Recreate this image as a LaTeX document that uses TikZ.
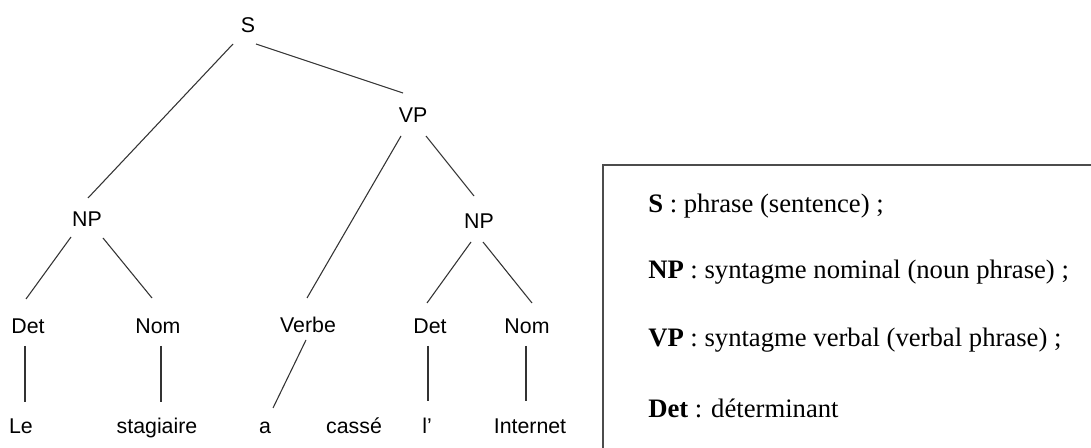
\documentclass[tikz,border=0pt]{standalone}
\usepackage{fontspec}
\setmainfont{Liberation Serif}
\newfontfamily\treefont{Liberation Sans}
\usetikzlibrary{calc}
\begin{document}
\begin{tikzpicture}[x=0.75pt,y=-0.75pt,
  lab/.style={font=\treefont\fontsize{16}{18}\selectfont, inner sep=0pt, anchor=base, text=black},
  edge/.style={draw=black!80, line width=0.8pt},
  legend/.style={font=\fontsize{20}{24}\selectfont, inner sep=0pt, anchor=base west, text=black},
  legendbox/.style={draw=black!70, line width=1.6pt}
]
\useasboundingbox (0,0) rectangle (1091,448);
\fill[white] (0,0) rectangle (1091,448);

% --- syntax tree ---
\node[lab] (S)    at (248,33)  {S};
\node[lab] (VP)   at (413,123) {VP};
\node[lab] (NPl)  at (87,227)  {NP};
\node[lab] (NPr)  at (479,229) {NP};
\node[lab] (Detl) at (28,334)  {Det};
\node[lab] (Noml) at (158,334) {Nom};
\node[lab] (Verb) at (308,333) {Verbe};
\node[lab] (Detr) at (430,334) {Det};
\node[lab] (Nomr) at (527,334) {Nom};
\node[lab] (le)   at (21,433)  {Le};
\node[lab] (stag) at (157,433) {stagiaire};
\node[lab] (a)    at (265,433) {a};
\node[lab] (cass) at (354,433) {cassé};
\node[lab] (l)    at (427,433) {l’};
\node[lab] (inet) at (530,433) {Internet};

\draw[edge] ($(S.base)+(-15,11)$)   -- ($(NPl.base)+(1,-29)$);
\draw[edge] ($(S.base)+(8,11)$)     -- ($(VP.base)+(-10,-30)$);
\draw[edge] ($(VP.base)+(-12,13)$)  -- ($(Verb.base)+(-1,-35)$);
\draw[edge] ($(VP.base)+(13,13)$)   -- ($(NPr.base)+(-5,-33)$);
\draw[edge] ($(NPl.base)+(-16,10)$) -- ($(Detl.base)+(-2,-35)$);
\draw[edge] ($(NPl.base)+(16,11)$)  -- ($(Noml.base)+(-6,-36)$);
\draw[edge] ($(NPr.base)+(-8,13)$)  -- ($(Detr.base)+(-3,-31)$);
\draw[edge] ($(NPr.base)+(4,13)$)   -- ($(Nomr.base)+(5,-31)$);
\draw[edge] ($(Detl.base)+(-3,12)$) -- ($(le.base)+(4,-31)$);
\draw[edge] ($(Noml.base)+(3,12)$)  -- ($(stag.base)+(4,-31)$);
\draw[edge] ($(Verb.base)+(-2,7)$)  -- ($(a.base)+(8,-25)$);
\draw[edge] ($(Detr.base)+(-2,12)$) -- ($(l.base)+(1,-32)$);
\draw[edge] ($(Nomr.base)+(-1,12)$) -- ($(inet.base)+(-4,-32)$);

% --- legend box, running past the right and bottom edges ---
\begin{scope}
  \clip (0,0) rectangle (1091,448);
  \draw[legendbox] (603,165) rectangle (1120,480);
\end{scope}
\node[legend] (kS)   at (648,213) {\textbf{S} : phrase (sentence) ;};
\node[legend] (kNP)  at (648,279) {\textbf{NP} : syntagme nominal (noun phrase) ;};
\node[legend] (kVP)  at (648,347) {\textbf{VP} : syntagme verbal (verbal phrase) ;};
\node[legend] (kDet) at (648,417) {\textbf{Det} : déterminant};
\end{tikzpicture}
\end{document}
